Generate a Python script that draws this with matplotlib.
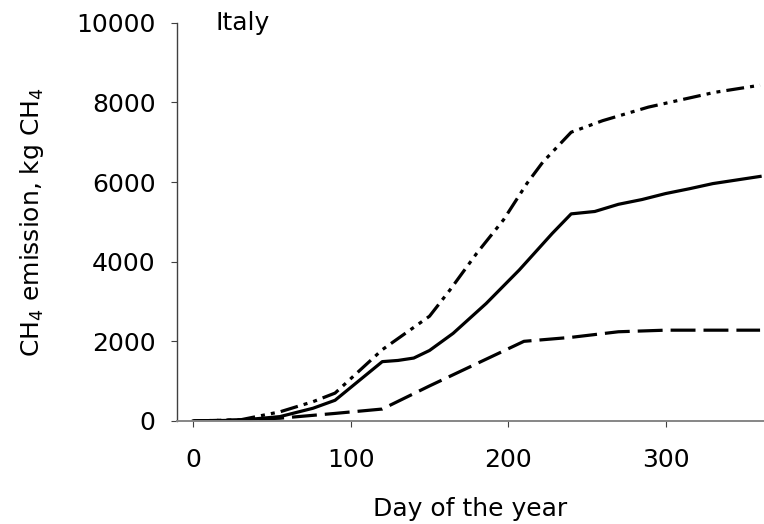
import matplotlib
matplotlib.use("Agg")
import matplotlib.pyplot as plt

# Cumulative CH4 emission, Italy
days_solid = [0, 30, 55, 76, 90, 120, 130, 140, 150, 165, 186, 207, 228, 240,
              255, 270, 285, 300, 315, 330, 345, 360]
ch4_solid = [0, 20, 110, 320, 520, 1490, 1520, 1580, 1770, 2200, 2950, 3790, 4710, 5200,
             5260, 5440, 5560, 5710, 5830, 5960, 6050, 6140]

days_high = [0, 30, 55, 76, 90, 120, 150, 163, 180, 197, 212, 222, 240, 260, 289, 331, 360]
ch4_high = [0, 30, 230, 485, 700, 1790, 2630, 3290, 4210, 5050, 5970, 6500, 7250, 7540, 7880, 8250, 8430]

days_low = [0, 30, 55, 90, 120, 150, 180, 210, 240, 270, 300, 330, 360]
ch4_low = [0, 30, 70, 190, 300, 880, 1440, 2000, 2100, 2240, 2280, 2280, 2280]

y_ticks = [0, 2000, 4000, 6000, 8000, 10000]
x_ticks = [0, 100, 200, 300]

fig = plt.figure(figsize=(7.64, 5.24), dpi=100)
ax = fig.add_axes([0.2317, 0.1966, 0.7683, 0.7601])

ax.plot(days_high, ch4_high, color="black", lw=2.3, dashes=(5.6, 1.9, 1.25, 1.9, 1.25, 1.9))
ax.plot(days_solid, ch4_solid, color="black", lw=2.3)
ax.plot(days_low, ch4_low, color="black", lw=2.3, dashes=(7.8, 2.5))

ax.set_xlim(-10.4, 362.5)
ax.set_ylim(0, 10000)
ax.set_xticks(x_ticks)
ax.set_yticks(y_ticks)

for side in ["top", "right"]:
    ax.spines[side].set_visible(False)
ax.spines["left"].set_color("#404040")
ax.spines["bottom"].set_color("#868686")
ax.spines["left"].set_linewidth(1.0)
ax.spines["bottom"].set_linewidth(1.4)

ax.tick_params(axis="y", direction="out", length=4.5, width=0.8, color="#404040",
               labelsize=18, pad=11)
ax.tick_params(axis="x", direction="out", length=4.5, width=0.8, color="#404040",
               labelsize=18, pad=15)

ax.set_xlabel("Day of the year", fontsize=18, labelpad=18)
ax.set_ylabel("CH$_4$ emission, kg CH$_4$", fontsize=18, labelpad=22)

ax.text(14, 9820, "Italy", fontsize=18, va="baseline", ha="left", clip_on=False)

fig.savefig("out.png", dpi=100)
